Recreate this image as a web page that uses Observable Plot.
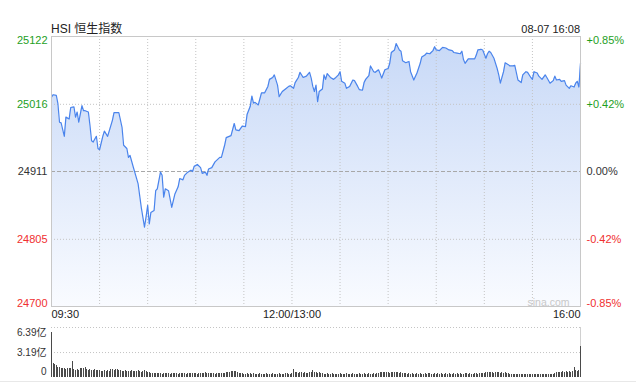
<!DOCTYPE html>
<html><head><meta charset="utf-8">
<script src="https://cdn.jsdelivr.net/npm/d3@7"></script>
<script src="https://cdn.jsdelivr.net/npm/@observablehq/plot@0.6"></script>
<style>
body{margin:0;background:#fff;font-family:"Liberation Sans",Arial,"Noto Sans CJK SC",sans-serif;}
#wrap{position:relative;width:641px;height:383px;overflow:hidden;background:#fff;}
#title{position:absolute;left:51px;top:22px;font-size:12px;line-height:14px;color:#222;white-space:nowrap;}
#stamp{position:absolute;right:61px;top:23px;font-size:11px;line-height:13px;color:#222;white-space:nowrap;}
#price{position:absolute;left:0;top:0;}
#vol{position:absolute;left:0;top:310px;}
#bottomline{position:absolute;left:0;top:381px;width:636px;height:1px;background:#e8e8e8;}
</style></head>
<body>
<div id="wrap">
  <div id="price"></div>
  <div id="vol"></div>
  <div id="bottomline"></div>
  <div id="title">HSI 恒生指数</div>
  <div id="stamp">08-07 16:08</div>
</div>
<script>
// ---- data (minutes after 09:30, lunch break removed: 150 = 12:00/13:00, 330 = 16:00) ----
const title = "HSI 恒生指数";
const stamp = "08-07 16:08";
const preClose = 24911;
const yTicks = [24700, 24805, 24911, 25016, 25122];
const yTickLabels = ["24700", "24805", "24911", "25016", "25122"];
const pctLabels = ["-0.85%", "-0.42%", "0.00%", "+0.42%", "+0.85%"];
const xTicks = [0, 150, 330];
const xTickLabels = ["09:30", "12:00/13:00", "16:00"];
const gridMinutes = [30, 60, 90, 120, 150, 180, 210, 240, 270, 300];

const priceMinutes = [
  0,1,3,4,5,6,8,9,11,12,
  14,15,16,17,19,20,21,23,24,25,
  26,28,29,30,32,33,35,36,38,39,
  42,44,45,47,48,49,51,54,56,58,
  59,60,61,62,64,65,66,68,69,70,
  71,73,75,77,79,80,82,83,85,87,
  88,89,91,93,94,96,97,98,100,102,
  105,106,108,109,112,114,115,117,119,121,
  122,124,125,126,127,129,131,133,135,136,
  138,139,141,142,144,146,148,149,151,152,
  154,155,157,159,161,162,163,164,165,166,
  167,169,170,171,172,174,176,177,179,180,
  181,183,184,186,188,189,191,192,194,195,
  196,198,199,201,202,204,205,206,208,210,
  211,212,214,215,217,218,219,221,223,224,
  226,228,230,231,233,234,236,238,239,240,
  242,244,246,248,250,251,253,255,256,257,
  258,260,262,264,265,266,268,269,271,272,
  273,274,276,278,279,280,282,283,285,286,
  288,289,291,293,294,296,297,299,300,301,
  303,304,306,308,309,311,313,314,315,317,
  318,320,321,323,324,326,327,328,329,330
];
const prices = [
  25027,25031,25030,25017,24988,24987,24966,24996,24993,25011,
  25012,24996,25004,24988,25014,25006,25006,25004,24983,24959,
  24957,24966,24947,24945,24966,24974,24966,24974,24991,25003,
  25003,24980,24952,24947,24933,24936,24918,24892,24855,24824,
  24840,24858,24829,24847,24850,24881,24884,24910,24905,24871,
  24884,24881,24855,24876,24887,24900,24898,24905,24910,24913,
  24911,24919,24922,24917,24908,24910,24905,24915,24917,24926,
  24933,24933,24952,24964,24967,24986,24976,24975,24982,24981,
  25000,25013,25029,25018,25019,25015,25034,25034,25044,25055,
  25058,25062,25046,25028,25036,25040,25044,25045,25041,25050,
  25058,25066,25058,25060,25066,25057,25044,25036,25046,25020,
  25036,25040,25062,25055,25064,25058,25055,25057,25062,25067,
  25052,25049,25041,25044,25054,25053,25044,25039,25038,25050,
  25055,25061,25076,25067,25066,25070,25064,25057,25070,25072,
  25080,25097,25101,25111,25101,25099,25084,25081,25083,25067,
  25054,25065,25080,25090,25093,25096,25095,25100,25106,25101,
  25100,25105,25104,25101,25100,25097,25096,25095,25099,25086,
  25080,25087,25087,25087,25093,25101,25102,25101,25088,25095,
  25099,25097,25088,25072,25062,25049,25067,25081,25078,25076,
  25076,25077,25054,25050,25062,25067,25066,25058,25055,25067,
  25065,25060,25055,25062,25058,25049,25053,25060,25054,25055,
  25052,25053,25046,25041,25045,25043,25049,25052,25043,25080
];

// volume per minute, in 亿 (index = minute 0..330)
const volumes = [
  5.80,1.80,1.70,1.50,1.30,1.25,1.15,1.20,1.10,1.05,
  1.20,1.15,1.10,2.00,1.05,0.95,1.00,0.90,1.10,1.20,
  1.15,1.25,1.05,0.95,1.00,0.90,0.85,1.00,0.95,0.90,
  0.85,0.80,0.75,0.85,0.80,0.90,0.75,1.00,1.05,0.95,
  1.00,1.05,0.90,0.85,0.80,0.75,0.85,0.80,0.75,0.80,
  0.85,0.80,0.75,0.80,0.85,0.75,0.70,0.80,0.85,0.75,
  0.70,0.65,0.55,0.50,0.55,0.48,0.45,0.52,0.50,0.44,
  0.50,0.56,0.46,0.49,0.43,0.51,0.55,0.45,0.48,0.44,
  0.52,0.46,0.55,0.49,0.44,0.50,0.47,0.51,0.57,0.45,
  0.50,0.44,0.49,0.56,0.52,0.46,0.60,0.50,0.45,0.48,
  0.55,0.51,0.44,0.49,0.46,0.56,0.50,0.45,0.52,0.58,
  0.62,0.70,0.76,0.80,0.72,0.75,0.64,0.55,0.50,0.46,
  0.44,0.41,0.46,0.39,0.45,0.42,0.47,0.40,0.43,0.38,
  0.45,0.41,0.44,0.39,0.47,0.42,0.40,0.44,0.46,0.41,
  0.43,0.39,0.45,0.41,0.44,0.40,0.46,0.50,0.44,0.42,
  0.50,1.07,0.65,0.60,0.55,0.62,0.58,0.55,0.60,0.57,
  0.55,0.62,0.70,0.95,0.65,0.58,0.55,0.60,0.52,0.48,
  0.44,0.41,0.45,0.40,0.43,0.46,0.42,0.39,0.44,0.41,
  0.45,0.42,0.40,0.44,0.47,0.41,0.43,0.39,0.45,0.42,
  0.40,0.44,0.46,0.41,0.43,0.45,0.40,0.42,0.47,0.44,
  0.41,0.45,0.43,0.48,0.55,0.62,0.58,0.65,0.60,0.68,
  0.63,0.57,0.66,0.61,0.70,0.59,0.64,0.56,0.60,0.55,
  0.52,0.47,0.44,0.48,0.42,0.46,0.44,0.41,0.45,0.43,
  0.47,0.44,0.42,0.46,0.43,0.45,0.48,0.42,0.44,0.46,
  0.43,0.45,0.41,0.47,0.44,0.42,0.46,0.43,0.45,0.41,
  0.44,0.47,0.42,0.45,0.43,0.46,0.44,0.41,0.45,0.47,
  0.43,0.46,0.44,0.42,0.48,0.45,0.43,0.47,0.50,0.52,
  0.55,0.62,0.58,0.66,0.60,0.64,0.57,0.63,0.59,0.61,
  0.56,0.60,0.54,0.58,0.52,0.49,0.42,0.39,0.43,0.40,
  0.38,0.42,0.40,0.37,0.41,0.39,0.43,0.40,0.38,0.41,
  0.39,0.42,0.38,0.41,0.40,0.37,0.43,0.39,0.41,0.38,
  0.42,0.40,0.39,0.43,0.55,0.62,0.58,0.66,0.60,0.72,
  0.65,0.78,0.70,0.74,0.68,0.80,1.28,0.85,0.82,0.88,
  4.00
];
const volTicks = [0, 3.19, 6.39];
const volTickLabels = ["0", "3.19亿", "6.39亿"];

// ---- build ----
const priceData = priceMinutes.map((m, i) => ({m, p: prices[i]}));
const volData = volumes.map((v, i) => ({m: i, v}));

const GREEN = "#1ea01e", RED = "#f03030", DARK = "#333";
const colorFor = v => v > preClose ? GREEN : v < preClose ? RED : DARK;
const font = '"Liberation Sans", Arial, "Noto Sans CJK SC", sans-serif';

const gradientDefs = () => {
  const ns = "http://www.w3.org/2000/svg";
  const defs = document.createElementNS(ns, "defs");
  const g = document.createElementNS(ns, "linearGradient");
  g.setAttribute("id", "hsiFill");
  g.setAttribute("x1", "0"); g.setAttribute("y1", "0");
  g.setAttribute("x2", "0"); g.setAttribute("y2", "1");
  [["0", "#c8d9f7"], ["1", "#f9fbff"]].forEach(([o, c]) => {
    const s = document.createElementNS(ns, "stop");
    s.setAttribute("offset", o); s.setAttribute("stop-color", c);
    g.appendChild(s);
  });
  defs.appendChild(g);
  return defs;
};

const anchorFor = i => i === 0 ? "bottom" : i === yTicks.length - 1 ? "top" : "middle";

const yLabelMarks = yTicks.flatMap((t, i) => [
  Plot.text([t], {y: d => d, text: () => yTickLabels[i], frameAnchor: "left", dx: -4,
    textAnchor: "end", lineAnchor: anchorFor(i), fill: colorFor(t), fontSize: 11}),
  Plot.text([t], {y: d => d, text: () => pctLabels[i], frameAnchor: "right", dx: 6,
    textAnchor: "start", lineAnchor: anchorFor(i), fill: colorFor(t), fontSize: 11})
]);

const xAnchors = ["start", "middle", "end"];
const xLabelMarks = xTicks.map((t, i) =>
  Plot.text([t], {x: d => d, text: () => xTickLabels[i], frameAnchor: "bottom", dy: 4,
    lineAnchor: "top", textAnchor: xAnchors[i], fill: "#222", fontSize: 11})
);

const pricePlot = Plot.plot({
  width: 641, height: 320,
  marginTop: 36, marginBottom: 14, marginLeft: 51, marginRight: 61,
  x: {domain: [0, 330], axis: null},
  y: {domain: [yTicks[0], yTicks[yTicks.length - 1]], axis: null},
  style: {fontFamily: font, fontSize: "11px", background: "transparent", overflow: "visible"},
  marks: [
    gradientDefs,
    Plot.areaY(priceData, {x: "m", y1: yTicks[0], y2: "p", fill: "url(#hsiFill)"}),
    Plot.ruleX(gridMinutes, {stroke: "#c4c4c4", strokeDasharray: "1,2"}),
    Plot.ruleY([yTicks[1], yTicks[3]], {stroke: "#c4c4c4", strokeDasharray: "1,2"}),
    Plot.ruleY([preClose], {stroke: "#a8a8a8", strokeDasharray: "4,2"}),
    Plot.line(priceData, {x: "m", y: "p", stroke: "#4a84ec", strokeWidth: 1.2}),
    Plot.frame({stroke: "#c8c8c8"}),
    Plot.text(["sina.com"], {frameAnchor: "bottom-right", dx: -11, dy: -1, textAnchor: "end",
      lineAnchor: "bottom", fill: "#c8c8c8", fontSize: 10.5}),
    ...yLabelMarks,
    ...xLabelMarks
  ]
});
document.getElementById("price").appendChild(pricePlot);

const volAnchor = i => i === 0 ? "bottom" : i === volTicks.length - 1 ? "top" : "middle";
const volDy = [-3, 0, 1];
const volPlot = Plot.plot({
  width: 641, height: 73,
  marginTop: 17, marginBottom: 6, marginLeft: 51, marginRight: 61,
  x: {domain: [0, 330], axis: null},
  y: {domain: [0, volTicks[volTicks.length - 1]], axis: null},
  style: {fontFamily: font, fontSize: "10px", background: "transparent", overflow: "visible"},
  marks: [
    Plot.ruleY(volTicks.slice(1), {stroke: "#c4c4c4", strokeDasharray: "1,2"}),
    Plot.ruleX([330], {stroke: "#d0d0d0"}),
    Plot.ruleX(volData, {x: "m", y1: 0, y2: "v", stroke: "#4a4a4a", strokeWidth: 1,
      shapeRendering: "crispEdges"}),
    ...volTicks.map((t, i) => Plot.text([t], {y: d => d, text: () => volTickLabels[i],
      frameAnchor: "left", dx: -5, dy: volDy[i], textAnchor: "end", lineAnchor: volAnchor(i),
      fill: "#333", fontSize: 10}))
  ]
});
document.getElementById("vol").appendChild(volPlot);
</script>
</body></html>
